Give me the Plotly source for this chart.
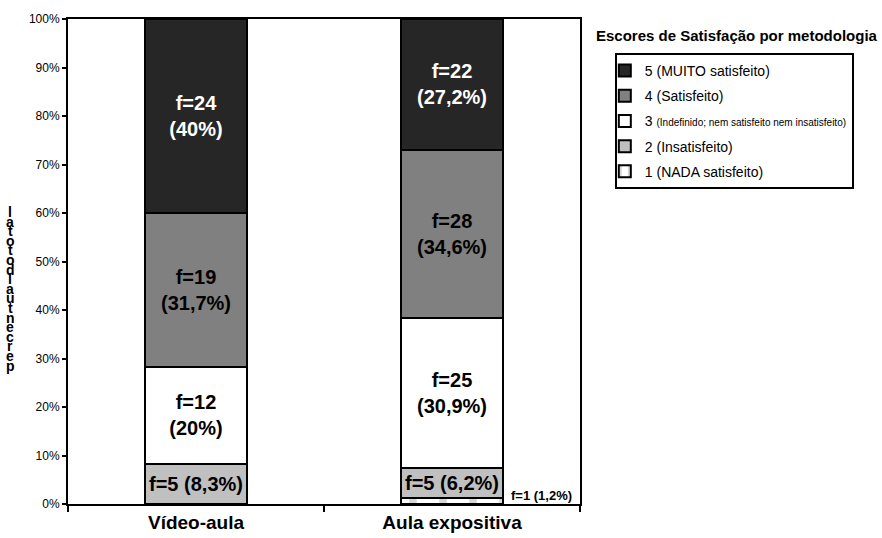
import plotly.graph_objects as go

categories = ["Vídeo-aula", "Aula expositiva"]
levels = ["1 (NADA satisfeito)", "2 (Insatisfeito)",
          "3 <span style='font-size:10px'>(Indefinido; nem satisfeito nem insatisfeito)</span>",
          "4 (Satisfeito)", "5 (MUITO satisfeito)"]
freq = {
    1: [0, 1],
    2: [5, 5],
    3: [12, 25],
    4: [19, 28],
    5: [24, 22],
}
pct = {
    1: [0.0, 1.2],
    2: [8.3, 6.2],
    3: [20.0, 30.9],
    4: [31.7, 34.6],
    5: [40.0, 27.2],
}
pct_txt = {
    1: ["", "1,2%"],
    2: ["8,3%", "6,2%"],
    3: ["20%", "30,9%"],
    4: ["31,7%", "34,6%"],
    5: ["40%", "27,2%"],
}
yticks = [0, 10, 20, 30, 40, 50, 60, 70, 80, 90, 100]
ylabel = "percentual do total"

fills = {1: "white", 2: "#c0c0c0", 3: "white", 4: "#808080", 5: "#262626"}
txtcol = {1: "black", 2: "black", 3: "black", 4: "black", 5: "white"}
FONT = "Arial, Liberation Sans, sans-serif"

fig = go.Figure()
for k in [1, 2, 3, 4, 5]:
    texts = []
    for i in range(2):
        if k == 1:
            texts.append("")
        elif k == 2:
            texts.append(f"f={freq[k][i]} ({pct_txt[k][i]})")
        else:
            texts.append(f"f={freq[k][i]}<br>({pct_txt[k][i]})")
    marker = dict(color=fills[k], line=dict(color="black", width=2))
    if k == 1:
        marker["pattern"] = dict(shape="|", fgcolor="#b0b0b0", bgcolor="white", size=30, solidity=0.25)
    fig.add_trace(go.Bar(
        x=categories, y=pct[k], name=levels[k - 1], marker=marker,
        text=texts, textposition="inside", insidetextanchor="middle",
        constraintext="none",
        textfont=dict(family=FONT, size=20, color=txtcol[k], weight="bold"),
        legendgroup=str(k), legendrank=6 - k, width=0.4,
    ))

# outside label for the tiny segment
fig.add_annotation(x=categories[1], y=pct[1][1] / 2 + 1.2, xref="x", yref="y",
                   text=f"<b>f={freq[1][1]} ({pct_txt[1][1]})</b>", showarrow=False,
                   xanchor="left", xshift=57, font=dict(family=FONT, size=13, color="black"))

# legend title
fig.add_annotation(x=1.307, y=1.0, xref="paper", yref="paper", xanchor="center", yanchor="bottom",
                   yshift=-27, text="<b>Escores de Satisfação por metodologia</b>", showarrow=False,
                   font=dict(family=FONT, size=15, color="black"))

# garbled stacked y label
letters = [c for c in ylabel[::-1] if c != " "]
top_px, step = 212, 9.6
for j, c in enumerate(letters):
    py = top_px + j * step
    fig.add_annotation(x=-0.113, y=(504 - py) / 485, xref="paper", yref="paper",
                       text=f"<b>{c}</b>", showarrow=False, xanchor="center", yanchor="middle",
                       font=dict(family=FONT, size=14, color="black"))

fig.update_layout(
    barmode="stack", bargap=0.6,
    width=882, height=538,
    margin=dict(l=68, r=302, t=19, b=34, autoexpand=False),
    plot_bgcolor="white", paper_bgcolor="white",
    font=dict(family=FONT, size=12, color="black"),
    showlegend=True,
    legend=dict(x=1.068, y=0.93, xanchor="left", yanchor="top",
                bordercolor="black", borderwidth=2, traceorder="grouped",
                tracegroupgap=4, font=dict(family=FONT, size=14, color="black"),
                itemwidth=30, indentation=-12),
    xaxis=dict(showline=True, linecolor="black", linewidth=2, mirror=True, automargin=False,
               ticks="outside", tickson="boundaries", ticklen=6, tickwidth=2, tickcolor="black",
               tickfont=dict(family=FONT, size=19, color="black", weight="bold")),
    yaxis=dict(range=[0, 100], tickvals=yticks, ticktext=[f"{v}%" for v in yticks],
               showline=True, linecolor="black", linewidth=2, mirror=True, automargin=False,
               ticks="outside", ticklen=4, tickwidth=2, tickcolor="black",
               showgrid=False, zeroline=False,
               tickfont=dict(family=FONT, size=12, color="black")),
)

fig.write_html("out.html")
